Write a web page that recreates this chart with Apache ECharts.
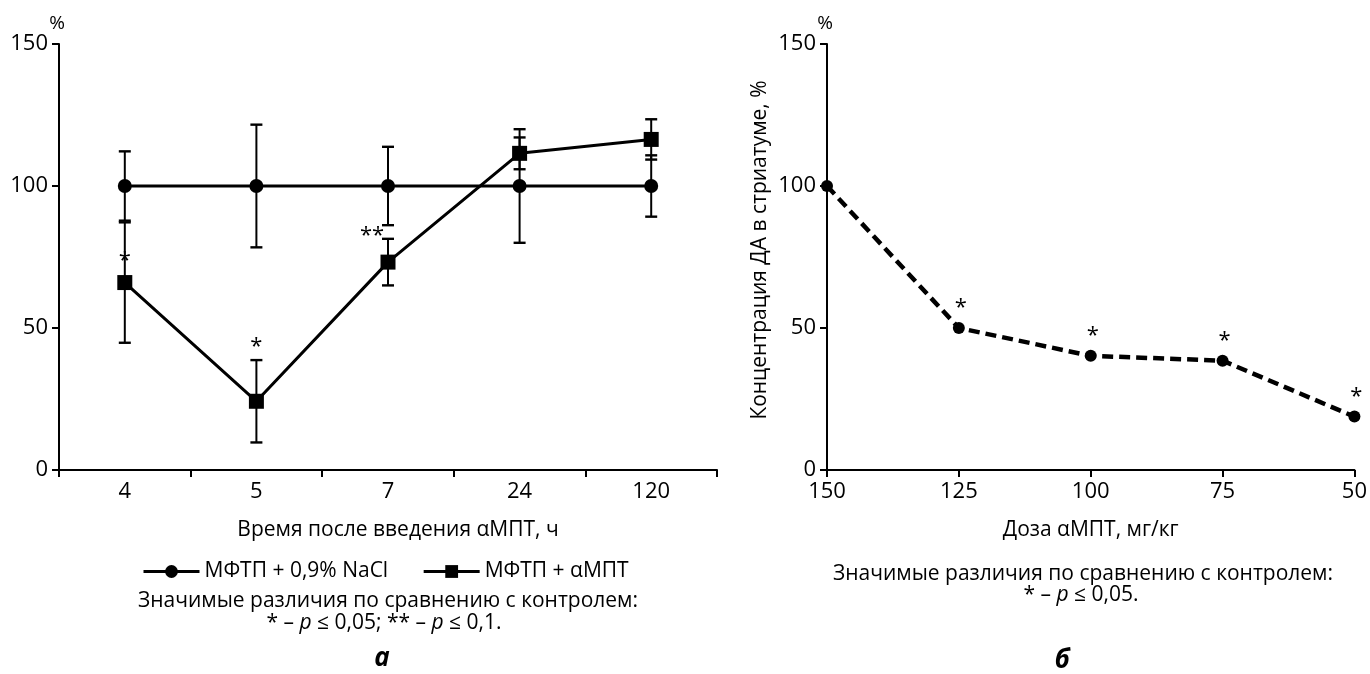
<!DOCTYPE html>
<html><head><meta charset="utf-8">
<script src="https://cdn.jsdelivr.net/npm/echarts@6/dist/echarts.min.js"></script>
<style>html,body{margin:0;padding:0;background:#fff}#c{width:1370px;height:674px}</style>
</head><body><div id="c"></div>
<script>
// ---- data ----
const timeCategories = ['4', '5', '7', '24', '120'];
const salineMean = [100, 100, 100, 100, 100];
const salineErr = [12.2, 21.6, 13.8, 20.0, 10.8];
const ampMean = [66.0, 24.2, 73.2, 111.5, 116.4];
const ampErr = [21.2, 14.5, 8.2, 5.6, 7.1];
const ampSig = ['*', '*', '**', '', ''];
const doseCategories = ['150', '125', '100', '75', '50'];
const doseValues = [100, 50.0, 40.2, 38.5, 18.8];
const doseSig = ['', '*', '*', '*', '*'];
const seriesNames = ['МФТП + 0,9% NaCl', 'МФТП + αМПТ'];

// ---- styles ----
const FONT = 'Open Sans';
const ampSigOffset = [[0, -22], [0, -55], [-16, -26], [0, 0], [0, 0]];
const doseSigOffset = [2, -20];

const chart = echarts.init(document.getElementById('c'), null, {renderer: 'canvas'});

function errRender(params, api) {
  const i = api.value(0);
  const lo = api.coord([i, api.value(1)]);
  const hi = api.coord([i, api.value(2)]);
  const w = 6;
  const st = {stroke: '#000', lineWidth: 2};
  return {type: 'group', children: [
    {type: 'line', shape: {x1: hi[0], y1: hi[1], x2: lo[0], y2: lo[1]}, style: st},
    {type: 'line', shape: {x1: hi[0] - w, y1: hi[1], x2: hi[0] + w, y2: hi[1]}, style: {stroke: '#000', lineWidth: 2.4}},
    {type: 'line', shape: {x1: lo[0] - w, y1: lo[1], x2: lo[0] + w, y2: lo[1]}, style: {stroke: '#000', lineWidth: 2.4}}
  ]};
}

const axisLineStyle = {show: true, lineStyle: {color: '#000', width: 2}};
const tickStyle = {show: true, inside: false, length: 7, lineStyle: {color: '#000', width: 2}};
const labelStyle = {color: '#000', fontFamily: FONT, fontSize: 22};

function yAxisCfg(gridIndex) {
  return {
    type: 'value', gridIndex: gridIndex, min: 0, max: 150, interval: 50,
    name: '%', nameLocation: 'end', nameGap: 9,
    nameTextStyle: {color: '#000', fontFamily: FONT, fontSize: 19, align: 'center', padding: [0, 0, 0, -4]},
    axisLine: axisLineStyle, axisTick: tickStyle, splitLine: {show: false},
    axisLabel: Object.assign({margin: 11}, labelStyle)
  };
}

const option = {
  animation: false,
  backgroundColor: '#fff',
  textStyle: {fontFamily: FONT},
  grid: [
    {left: 59, top: 44, width: 658, height: 426},
    {left: 827, top: 44, width: 528, height: 426}
  ],
  xAxis: [
    {
      type: 'category', gridIndex: 0, data: timeCategories, boundaryGap: true,
      name: 'Время после введения αМПТ, ч', nameLocation: 'middle', nameGap: 50,
      nameTextStyle: {color: '#000', fontFamily: FONT, fontSize: 21, padding: [0, 0, 0, 20]},
      axisLine: axisLineStyle, axisTick: Object.assign({alignWithLabel: false}, tickStyle),
      axisLabel: Object.assign({margin: 11}, labelStyle)
    },
    {
      type: 'category', gridIndex: 1, data: doseCategories, boundaryGap: false,
      name: 'Доза αМПТ, мг/кг', nameLocation: 'middle', nameGap: 50,
      nameTextStyle: {color: '#000', fontFamily: FONT, fontSize: 21},
      axisLine: axisLineStyle, axisTick: tickStyle,
      axisLabel: Object.assign({margin: 11}, labelStyle)
    }
  ],
  yAxis: [yAxisCfg(0), yAxisCfg(1)],
  legend: {
    left: 137, top: 556, itemWidth: 56, itemHeight: 16, itemGap: 34,
    data: seriesNames,
    lineStyle: {width: 3},
    textStyle: {color: '#000', fontFamily: FONT, fontSize: 21}
  },
  series: [
    {
      type: 'custom', xAxisIndex: 0, yAxisIndex: 0, renderItem: errRender, silent: true,
      encode: {x: 0, y: [1, 2]}, z: 1,
      data: salineMean.map((m, i) => [i, m - salineErr[i], m + salineErr[i]])
    },
    {
      type: 'custom', xAxisIndex: 0, yAxisIndex: 0, renderItem: errRender, silent: true,
      encode: {x: 0, y: [1, 2]}, z: 1,
      data: ampMean.map((m, i) => [i, m - ampErr[i], m + ampErr[i]])
    },
    {
      name: seriesNames[0], type: 'line', xAxisIndex: 0, yAxisIndex: 0,
      data: salineMean, symbol: 'circle', symbolSize: 14, z: 3,
      itemStyle: {color: '#000'}, lineStyle: {color: '#000', width: 3}
    },
    {
      name: seriesNames[1], type: 'line', xAxisIndex: 0, yAxisIndex: 0,
      symbol: 'rect', symbolSize: 15, z: 3,
      itemStyle: {color: '#000'}, lineStyle: {color: '#000', width: 3},
      data: ampMean.map((v, i) => ({
        value: v,
        label: {
          show: ampSig[i] !== '', formatter: ampSig[i], position: 'inside',
          offset: ampSigOffset[i], color: '#000', fontFamily: FONT, fontSize: 22
        }
      }))
    },
    {
      type: 'line', xAxisIndex: 1, yAxisIndex: 1,
      symbol: 'circle', symbolSize: 12, z: 3,
      itemStyle: {color: '#000'}, lineStyle: {color: '#000', width: 4.5, type: [11, 6]},
      data: doseValues.map((v, i) => ({
        value: v,
        label: {
          show: doseSig[i] !== '', formatter: doseSig[i], position: 'inside',
          offset: doseSigOffset, color: '#000', fontFamily: FONT, fontSize: 22
        }
      }))
    }
  ],
  graphic: [
    {type: 'text', x: 388, y: 601, style: {text: 'Значимые различия по сравнению с контролем:', fill: '#000', font: '21px "Open Sans"', align: 'center', verticalAlign: 'middle'}},
    {type: 'text', x: 384, y: 623, style: {
      text: '{n|* – }{i|p}{n| ≤ 0,05; ** – }{i|p}{n| ≤ 0,1.}', align: 'center', verticalAlign: 'middle',
      rich: {n: {fill: '#000', fontFamily: FONT, fontSize: 21}, i: {fill: '#000', fontFamily: FONT, fontSize: 21, fontStyle: 'italic'}}
    }},
    {type: 'text', x: 382, y: 659, style: {text: 'а', fill: '#000', font: 'italic bold 26px "Open Sans"', align: 'center', verticalAlign: 'middle'}},
    {type: 'text', x: 1083, y: 574, style: {text: 'Значимые различия по сравнению с контролем:', fill: '#000', font: '21px "Open Sans"', align: 'center', verticalAlign: 'middle'}},
    {type: 'text', x: 1081, y: 595, style: {
      text: '{n|* – }{i|p}{n| ≤ 0,05.}', align: 'center', verticalAlign: 'middle',
      rich: {n: {fill: '#000', fontFamily: FONT, fontSize: 21}, i: {fill: '#000', fontFamily: FONT, fontSize: 21, fontStyle: 'italic'}}
    }},
    {type: 'text', x: 1062, y: 661, style: {text: 'б', fill: '#000', font: 'italic bold 26px "Open Sans"', align: 'center', verticalAlign: 'middle'}},
    {type: 'text', x: 760, y: 250, rotation: Math.PI / 2, style: {text: 'Концентрация ДА в стриатуме, %', fill: '#000', font: '21px "Open Sans"', align: 'center', verticalAlign: 'middle'}}
  ]
};
chart.setOption(option);
</script></body></html>
